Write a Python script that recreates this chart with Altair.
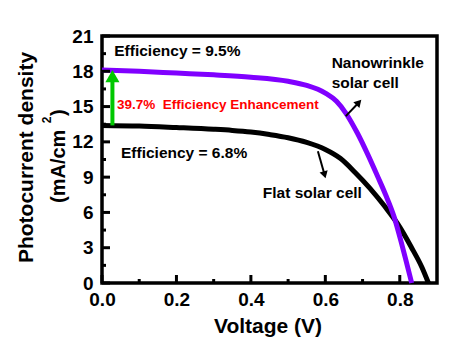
import altair as alt
import pandas as pd

# ---- data ----
volt_nano = [0.0, 0.1, 0.2, 0.3, 0.4, 0.5, 0.55, 0.6, 0.63, 0.655, 0.686, 0.713, 0.74, 0.762, 0.785, 0.807, 0.832]
j_nano = [18.1, 18.0, 17.85, 17.7, 17.5, 17.15, 16.8, 16.15, 15.45, 14.45, 12.75, 11.0, 9.1, 7.5, 5.6, 3.1, 0.0]
volt_flat = [0.0, 0.1, 0.2, 0.3, 0.35, 0.4, 0.45, 0.5, 0.55, 0.6, 0.64, 0.68, 0.72, 0.76, 0.8, 0.83, 0.86, 0.877]
j_flat = [13.4, 13.35, 13.22, 13.07, 12.97, 12.83, 12.62, 12.35, 11.95, 11.35, 10.6, 9.4, 8.05, 6.5, 4.75, 3.1, 1.3, 0.0]

x_major = [0.0, 0.2, 0.4, 0.6, 0.8]
x_minor = [0.1, 0.3, 0.5, 0.7]
y_major = [0, 3, 6, 9, 12, 15, 18, 21]
y_minor = [1.5, 4.5, 7.5, 10.5, 13.5, 16.5, 19.5]

note_text = ["Efficiency = 9.5%", "Nanowrinkle", "solar cell", "Efficiency = 6.8%", "Flat solar cell"]
note_x = [0.033, 0.617, 0.617, 0.051, 0.432]
note_y = [19.74, 18.7, 17.0, 11.06, 7.61]

enh_text = ["39.7%\u00a0\u00a0Efficiency Enhancement"]
enh_x = [0.040]
enh_y = [15.12]

# arrows (annotation): tail -> tip
arr_x0 = [0.655, 0.580]
arr_y0 = [14.19, 11.2]
arr_x1 = [0.690, 0.598]
arr_y1 = [15.35, 9.2]
arr_ang = [43, 164]

green_x = [0.028]
green_y0 = [13.4]
green_y1 = [17.6]
green_head = [17.58]

FONT = "Liberation Sans"
W, H = 335, 247

xs = alt.Scale(domain=[0, 0.9], nice=False, zero=False)
ys = alt.Scale(domain=[0, 21], nice=False)

flat_df = pd.DataFrame({"V": volt_flat, "J": j_flat})
nano_df = pd.DataFrame({"V": volt_nano, "J": j_nano})

x_axis = alt.Axis(values=x_major, format=".1f", title=None, domain=False, ticks=False,
                  grid=False, labelFont=FONT, labelFontSize=19, labelFontWeight="bold",
                  labelColor="black", labelPadding=7, labelFlush=False, labelOverlap=False)
y_axis = alt.Axis(values=y_major, format="d", title=None, domain=False, ticks=False,
                  grid=False, labelFont=FONT, labelFontSize=19, labelFontWeight="bold",
                  labelColor="black", labelPadding=9, labelFlush=False, labelOverlap=False)


def X(f):
    return alt.X(f, scale=xs, axis=x_axis)


def Y(f):
    return alt.Y(f, scale=ys, axis=y_axis)


flat = alt.Chart(flat_df).mark_line(color="black", strokeWidth=5, interpolate="monotone").encode(
    x=X("V:Q"), y=Y("J:Q"))
nano = alt.Chart(nano_df).mark_line(color="#8000ff", strokeWidth=5, interpolate="monotone").encode(
    x=X("V:Q"), y=Y("J:Q"))

# inward ticks
xmaj = alt.Chart(pd.DataFrame({"v": x_major})).mark_rule(color="black", strokeWidth=3).encode(
    x=X("v:Q"), y=alt.value(H), y2=alt.value(H - 8))
xmin = alt.Chart(pd.DataFrame({"v": x_minor})).mark_rule(color="black", strokeWidth=3).encode(
    x=X("v:Q"), y=alt.value(H), y2=alt.value(H - 4))
ymaj = alt.Chart(pd.DataFrame({"v": y_major})).mark_rule(color="black", strokeWidth=3).encode(
    y=Y("v:Q"), x=alt.value(0), x2=alt.value(8))
ymin = alt.Chart(pd.DataFrame({"v": y_minor})).mark_rule(color="black", strokeWidth=3).encode(
    y=Y("v:Q"), x=alt.value(0), x2=alt.value(4))

notes = alt.Chart(pd.DataFrame({"x": note_x, "y": note_y, "t": note_text})).mark_text(
    align="left", baseline="middle", font=FONT, fontSize=15.5, fontWeight="bold", color="black"
).encode(x=X("x:Q"), y=Y("y:Q"), text="t:N")

enh = alt.Chart(pd.DataFrame({"x": enh_x, "y": enh_y, "t": enh_text})).mark_text(
    align="left", baseline="middle", font=FONT, fontSize=13.5, fontWeight="bold", color="#ff0000"
).encode(x=X("x:Q"), y=Y("y:Q"), text="t:N")

arr_df = pd.DataFrame({"x0": arr_x0, "y0": arr_y0, "x1": arr_x1, "y1": arr_y1, "a": arr_ang})
arr_shaft = alt.Chart(arr_df).mark_rule(color="black", strokeWidth=2).encode(
    x=X("x0:Q"), y=Y("y0:Q"), x2="x1:Q", y2="y1:Q")
arr_head = alt.Chart(arr_df).mark_point(shape="triangle-up", filled=True, color="black",
                                        size=70, opacity=1).encode(
    x=X("x1:Q"), y=Y("y1:Q"), angle=alt.Angle("a:Q", scale=None))

g_df = pd.DataFrame({"x": green_x, "y0": green_y0, "y1": green_y1, "h": green_head})
g_shaft = alt.Chart(g_df).mark_rule(color="#00c800", strokeWidth=4).encode(
    x=X("x:Q"), y=Y("y0:Q"), y2="y1:Q")
g_head = alt.Chart(g_df).mark_point(shape="triangle-up", filled=True, color="#00c800",
                                    size=200, opacity=1).encode(
    x=X("x:Q"), y=Y("h:Q"))

# axis titles as text
xtitle = alt.Chart(pd.DataFrame({"t": ["Voltage (V)"]})).mark_text(
    font=FONT, fontSize=21, fontWeight="bold", color="black",
    align="center", baseline="alphabetic").encode(x=alt.value(166), y=alt.value(297), text="t:N")
yt1 = alt.Chart(pd.DataFrame({"t": ["Photocurrent density"]})).mark_text(
    font=FONT, fontSize=21, fontWeight="bold", color="black", angle=270,
    align="center", baseline="alphabetic").encode(x=alt.value(-68.7), y=alt.value(121.5), text="t:N")
yt2 = alt.Chart(pd.DataFrame({"t": ["(mA/cm"]})).mark_text(
    font=FONT, fontSize=20, fontWeight="bold", color="black", angle=270,
    align="left", baseline="alphabetic").encode(x=alt.value(-37.5), y=alt.value(167), text="t:N")
yt3 = alt.Chart(pd.DataFrame({"t": ["2"]})).mark_text(
    font=FONT, fontSize=12, fontWeight="bold", color="black", angle=270,
    align="center", baseline="alphabetic").encode(x=alt.value(-51), y=alt.value(84), text="t:N")
yt4 = alt.Chart(pd.DataFrame({"t": [")"]})).mark_text(
    font=FONT, fontSize=20, fontWeight="bold", color="black", angle=270,
    align="left", baseline="alphabetic").encode(x=alt.value(-37.5), y=alt.value(80), text="t:N")

chart = alt.layer(
    flat, nano, xmaj, xmin, ymaj, ymin, g_shaft, g_head, arr_shaft, arr_head,
    notes, enh, xtitle, yt1, yt2, yt3, yt4
).properties(
    width=W, height=H,
    padding={"left": 102, "top": 36, "right": 29, "bottom": 74},
    autosize=alt.AutoSizeParams(type="none"),
    background="white",
).configure_view(stroke="black", strokeWidth=3.5)

chart.save("out.html", embed_options={"renderer": "svg", "actions": False})
